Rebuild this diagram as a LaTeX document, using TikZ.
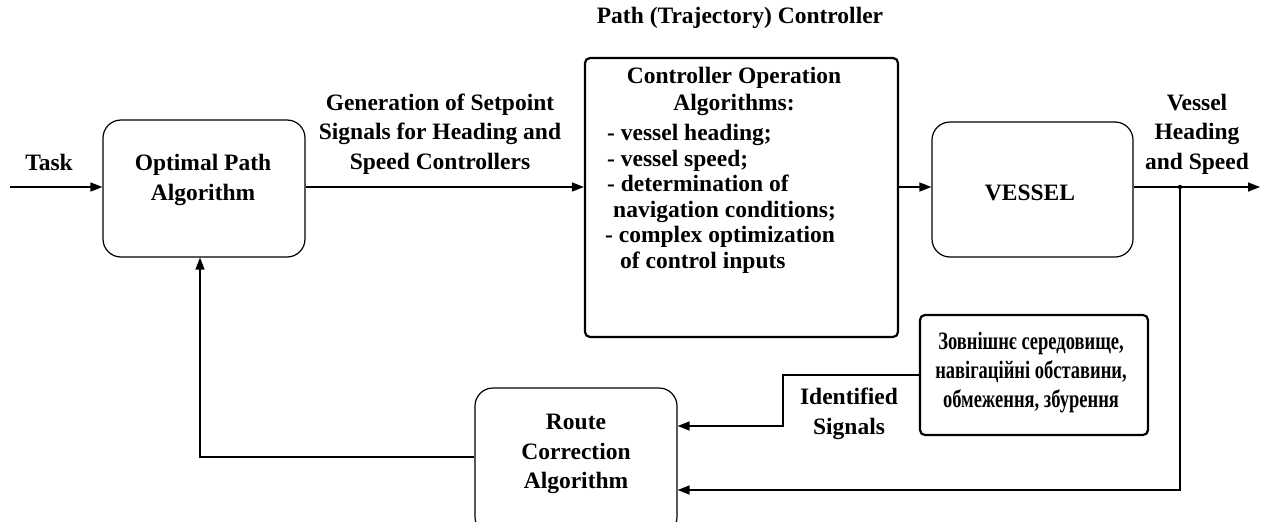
\documentclass[tikz,border=0pt]{standalone}
\usepackage{fontspec}
\setmainfont{Liberation Serif}
\newfontfamily\ukrfont[FakeStretch=0.74]{Liberation Serif}
\usetikzlibrary{arrows.meta,calc}
\begin{document}
\begin{tikzpicture}[x=1pt,y=-1pt,
  every node/.style={font=\fontsize{23.5}{29.5}\selectfont\bfseries, inner sep=0pt},
  rbox/.style={draw, rounded corners=18pt, line width=1.2pt},
  sbox/.style={draw, rounded corners=5pt, line width=2.2pt},
  lbl/.style={align=center},
  arr/.style={line width=1.6pt, -{Triangle[length=12pt,width=9pt]}},
  wire/.style={line width=1.6pt}]
\useasboundingbox (0,0) rectangle (1261,522);

% boxes
\node[rbox, minimum width=202pt, minimum height=137pt] (opt) at (204,188.5) {};
\node[sbox, minimum width=313pt, minimum height=279pt] (ctrl) at (741.5,197.5) {};
\node[rbox, minimum width=201pt, minimum height=135pt] (ves) at (1032.5,189.5) {};
\node[rbox, minimum width=202pt, minimum height=147pt] (route) at (576,461.5) {};
\node[sbox, minimum width=228pt, minimum height=120pt] (ukr) at (1034,375) {};

% box texts
\node[lbl] (optT) at (203,180) {Optimal Path\\Algorithm};
\node[lbl] (vesT) at (1030,193) {VESSEL};
\node[lbl] (routeT) at (576,454) {Route\\Correction\\Algorithm};
\node[lbl, font=\fontsize{23.5}{27}\selectfont\bfseries] (ctrlT) at (734,91) {Controller Operation\\Algorithms:};
\node[align=left, anchor=north west, font=\fontsize{23.5}{25.5}\selectfont\bfseries] (ctrlL) at (605,124)
  {\hspace{2pt}- vessel heading;\\\hspace{2pt}- vessel speed;\\\hspace{2pt}- determination of\\\hspace{8pt}navigation conditions;\\- complex optimization\\\hspace{15pt}of control inputs};
\node[align=center, font=\fontsize{25}{29}\selectfont\ukrfont\bfseries] (ukrT) at (1031,373)
  {Зовнішнє середовище,\\навігаційні обставини,\\обмеження, збурення};

% free labels
\node[lbl] (pathT) at (740,18) {Path (Trajectory) Controller};
\node (taskT) at (49,162) {Task};
\node[lbl] (genT) at (440,134) {Generation of Setpoint\\Signals for Heading and\\Speed Controllers};
\node[lbl] (vsT) at (1197,134) {Vessel\\Heading\\and Speed};
\node[lbl] (idT) at (849,414) {Identified\\Signals};

% coordinates
\coordinate (in) at (10,187);
\coordinate (j) at (1180,187);
\coordinate (out) at (1260,187);
\coordinate (c1) at (783,426);
\coordinate (c2) at (1180,490);

% connectors
\draw[arr] (in) -- (opt.west |- in);
\draw[arr] (opt.east |- in) -- (ctrl.west |- in);
\draw[arr] (ctrl.east |- in) -- (ves.west |- in);
\draw[arr] (ves.east |- in) -- (out);
\fill (j) circle (2.2pt);
\draw[arr] (j) -- (c2) -- (route.east |- c2);
\draw[arr] (ukr.west) -| (c1) -- (route.east |- c1);
\draw[arr] (route.west |- 0,457) -| (opt.south -| 200,0);
\end{tikzpicture}
\end{document}
